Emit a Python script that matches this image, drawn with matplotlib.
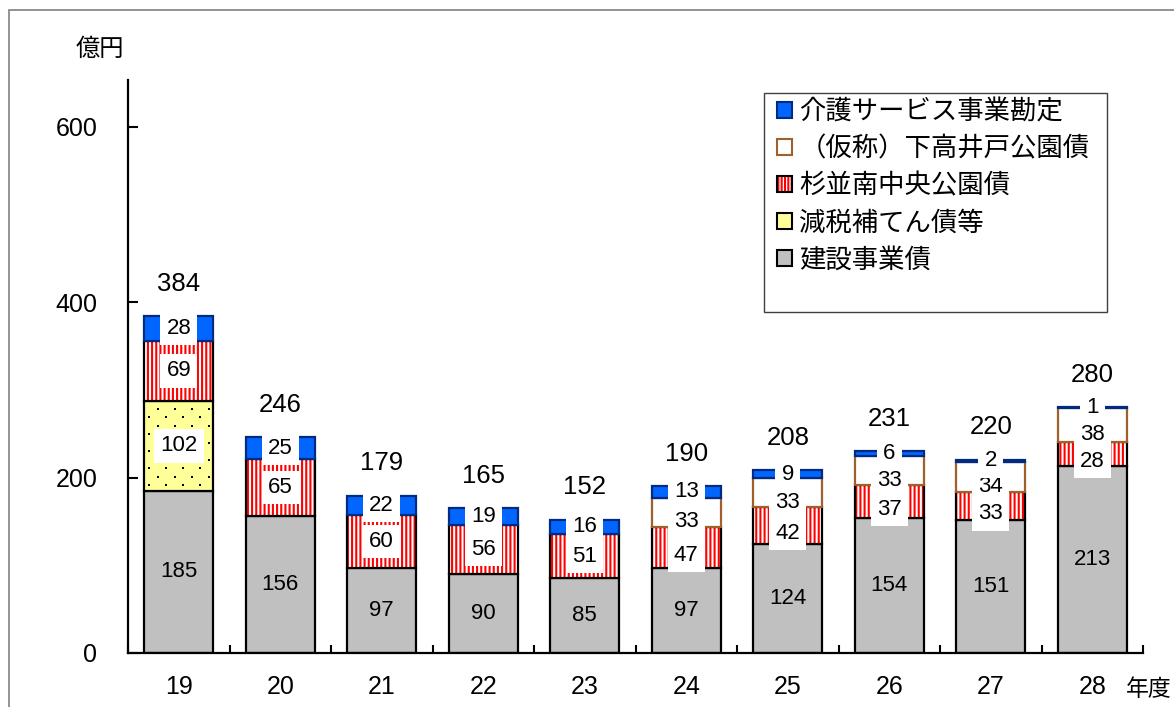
import matplotlib
matplotlib.use("Agg")
import matplotlib.pyplot as plt
import numpy as np
from matplotlib.patches import Patch, Rectangle
from matplotlib.legend_handler import HandlerTuple

# Fiscal years (Heisei) and outstanding balances by bond type (100 million yen)
years = ['19', '20', '21', '22', '23', '24', '25', '26', '27', '28']
construction = [185, 156, 97, 90, 85, 97, 124, 154, 151, 213]      # 建設事業債
tax_relief = [102, 0, 0, 0, 0, 0, 0, 0, 0, 0]                       # 減税補てん債等
suginami_park = [69, 65, 60, 56, 51, 47, 42, 37, 33, 28]            # 杉並南中央公園債
shimotakaido_park = [0, 0, 0, 0, 0, 33, 33, 33, 34, 38]             # （仮称）下高井戸公園債
care_service = [28, 25, 22, 19, 16, 13, 9, 6, 2, 1]                 # 介護サービス事業勘定
totals = [384, 246, 179, 165, 152, 190, 208, 231, 220, 280]

plt.rcParams['font.family'] = ['Liberation Sans', 'Noto Sans CJK JP']
plt.rcParams['hatch.linewidth'] = 1.5

W, H = 1174, 707
fig = plt.figure(figsize=(W / 100, H / 100), dpi=100)
ax = fig.add_axes([128 / W, 1 - 653 / H, (1143 - 128) / W, (653 - 80) / H])

x = np.arange(len(years))
bw = 0.68
GRAY = '#C0C0C0'
YELLOW = '#FFFF99'
RED = '#FF0000'
BROWN = '#A0602A'
BLUE = '#0066FF'
NAVY = '#002B80'

c = np.asarray(construction, dtype=float)
t = np.asarray(tax_relief, dtype=float)
s = np.asarray(suginami_park, dtype=float)
k = np.asarray(shimotakaido_park, dtype=float)
b = np.asarray(care_service, dtype=float)

base_t = c
base_s = c + t
base_k = base_s + s
base_b = base_k + k

# construction bonds
ax.bar(x, c, bw, color=GRAY, edgecolor='black', lw=1.6, zorder=2)

# tax relief bonds: pale yellow with a fine staggered dot texture
m = t > 0
yel = ax.bar(x[m], t[m], bw, bottom=base_t[m], facecolor=YELLOW,
             edgecolor='black', lw=1.6, zorder=2)
for p in yel:
    x0, y0 = p.get_x(), p.get_y()
    pw, ph = p.get_width(), p.get_height()
    dx, dy = 0.1675, 9.7          # ~17 px across, ~8.5 px between rows
    px, py = [], []
    j = 0
    yy = y0 + 6
    while yy < y0 + ph:
        xx = x0 + 0.05 + (j % 2) * dx / 2
        while xx < x0 + pw:
            px.append(xx)
            py.append(yy)
            xx += dx
        yy += dy
        j += 1
    sc = ax.scatter(px, py, s=2.2, marker='s', color='black', lw=0, zorder=2.5)
    sc.set_clip_path(p)

# Suginami park bonds: red vertical stripes with black outline
m = s > 0
ax.bar(x[m], s[m], bw, bottom=base_s[m], facecolor='white', edgecolor=RED,
       hatch='||||', lw=0, zorder=2)
ax.bar(x[m], s[m], bw, bottom=base_s[m], fill=False, edgecolor='black',
       lw=1.6, zorder=3)
# Shimotakaido park bonds: white with brown outline
m = k > 0
ax.bar(x[m], k[m], bw, bottom=base_k[m], facecolor='white', edgecolor=BROWN,
       lw=1.6, zorder=3)
# care service account: blue
m = b > 0
ax.bar(x[m], b[m], bw, bottom=base_b[m], facecolor=BLUE, edgecolor=NAVY,
       lw=1.6, zorder=4)

box = dict(boxstyle='square,pad=0.28', facecolor='white', edgecolor='none')
lab_fs = 16

for i in range(len(years)):
    ax.text(x[i], c[i] / 2, f'{int(c[i])}', ha='center', va='center',
            fontsize=lab_fs, zorder=6)
    if t[i] > 0:
        ax.text(x[i], base_t[i] + t[i] / 2, f'{int(t[i])}', ha='center',
                va='center', fontsize=lab_fs, bbox=box, zorder=6)
    if s[i] > 0:
        dy = -9 if k[i] > 0 else 0
        ax.text(x[i], base_s[i] + s[i] / 2 + dy, f'{int(s[i])}', ha='center',
                va='center', fontsize=lab_fs, bbox=box, zorder=6)
    if k[i] > 0:
        ax.text(x[i], base_k[i] + k[i] / 2 - 11, f'{int(k[i])}', ha='center',
                va='center', fontsize=lab_fs, bbox=box, zorder=6)
    if b[i] > 0:
        ax.text(x[i], base_b[i] + b[i] / 2, f'{int(b[i])}', ha='center',
                va='center', fontsize=lab_fs, bbox=box, zorder=6)
    top = base_b[i] + b[i]
    ax.text(x[i], top + 37, f'{totals[i]}', ha='center', va='center',
            fontsize=18.5, zorder=6)

ax.set_xlim(-0.5, len(years) - 0.5)
ax.set_ylim(0, 653)

ax.set_xticks(np.arange(-0.5, len(years), 1.0))
ax.set_xticklabels([])
ax.set_xticks(x, minor=True)
ax.set_xticklabels(years, minor=True, fontsize=18)
ax.tick_params(axis='x', which='major', direction='in', length=6, width=1.5)
ax.tick_params(axis='x', which='minor', length=0, pad=16)
ax.set_yticks([0, 200, 400, 600])
ax.tick_params(axis='y', direction='in', length=7, width=1.5, labelsize=18, pad=22)

for side in ('top', 'right'):
    ax.spines[side].set_visible(False)
for side in ('left', 'bottom'):
    ax.spines[side].set_linewidth(1.6)

fig.text(100 / W, 1 - 50 / H, '億円', ha='center', va='center', fontsize=17.5)
fig.text(1126 / W, 1 - 690 / H, '年度', ha='left', va='center', fontsize=16.5)

# legend
handles = [
    Patch(facecolor=BLUE, edgecolor=NAVY, lw=1.5),
    Patch(facecolor='white', edgecolor=BROWN, lw=1.5),
    (Patch(facecolor='white', edgecolor=RED, hatch='|||||', lw=0),
     Patch(fill=False, edgecolor='black', lw=1.5)),
    Patch(facecolor=YELLOW, edgecolor='black', lw=1.5),
    Patch(facecolor=GRAY, edgecolor='black', lw=1.5),
]
labels = ['介護サービス事業勘定', '（仮称）下高井戸公園債', '杉並南中央公園債',
          '減税補てん債等', '建設事業債']
fig.legend(handles, labels, loc='upper left',
           bbox_to_anchor=(777 / W, 1 - 99 / H), frameon=False,
           fontsize=19, handlelength=0.55, handleheight=0.55, handletextpad=0.3,
           labelspacing=0.46, borderpad=0, borderaxespad=0,
           handler_map={tuple: HandlerTuple(ndivide=1)})
fig.patches.append(Rectangle((764 / W, 1 - 312 / H), (1107 - 764) / W,
                             (312 - 93) / H, transform=fig.transFigure,
                             fill=False, edgecolor='#404040', lw=1))

# outer frame
fig.patches.append(Rectangle((9 / W, -0.05), 1.1, 1 - 10 / H + 0.05,
                             transform=fig.transFigure, fill=False,
                             edgecolor='#808080', lw=1.2))

fig.savefig('out.png', dpi=100)
